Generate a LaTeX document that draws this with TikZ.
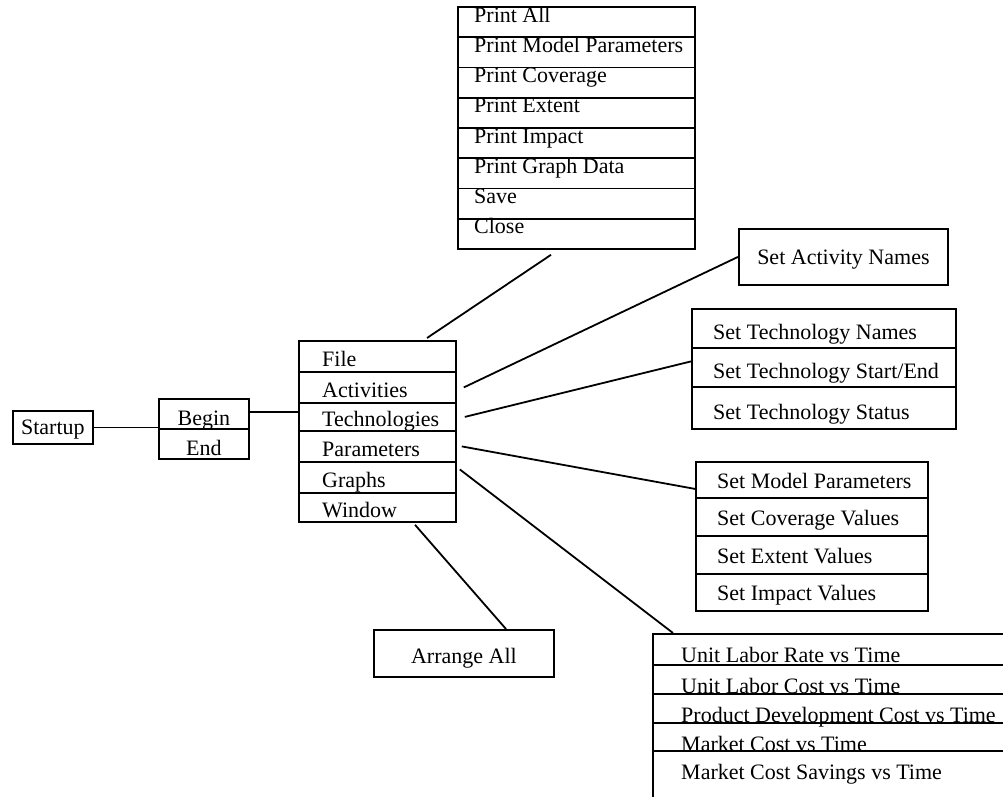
\documentclass[tikz,border=0pt]{standalone}
\usepackage{fontspec}
\setmainfont{Liberation Serif}
\newcommand{\dfont}{\fontsize{22}{26}\selectfont}
\begin{document}
\begin{tikzpicture}[x=1pt,y=-1pt,
  box/.style={draw, line width=1.8pt, rectangle, inner sep=0pt, font=\dfont, text height=16pt, text depth=1.4pt},
  cell/.style 2 args={box, anchor=north west, minimum width=#1, minimum height=#2},
  lbl/.style={anchor=base west, inner sep=0pt, font=\dfont},
  link/.style={line width=1.8pt},
]
\useasboundingbox (0,0) rectangle (1003,796);
\clip (0,0) rectangle (1003,796);

% Startup
\node[cell={80}{33}] (startup) at (12,410) {Startup};

% Begin / End
\node[cell={90}{30}, text height=24pt] (begin) at (158,398) {Begin};
\node[cell={90}{30}, text height=24pt] (end) at (158,428) {End};

% Main menu
\foreach \t/\y/\h [count=\i] in {File/340/31, Activities/371/31, Technologies/402/28, Parameters/430/31, Graphs/461/31, Window/492/29}{
  \node[cell={157}{\h}] (m\i) at (298,\y) {};
  \node[lbl, xshift=24pt, yshift=-9.8pt] (mt\i) at (m\i.west) {\t};
}

% Print menu
\foreach \t [count=\i] in {Print All, Print Model Parameters, Print Coverage, Print Extent, Print Impact, Print Graph Data, Save, Close}{
  \node[cell={237}{30.25}] (p\i) at (457,{6+30.25*(\i-1)}) {};
  \node[lbl, xshift=17pt] (pt\i) at (p\i.west) {\t};
}

% Activity
\node[cell={209}{56}] (act) at (738,228) {Set Activity Names};

% Technologies
\foreach \t/\y/\h [count=\i] in {Set Technology Names/308/39, Set Technology Start\slash End/347/39, Set Technology Status/386/42}{
  \node[cell={264}{\h}] (t\i) at (691,\y) {};
  \node[lbl, xshift=22pt, yshift=-11.3pt] (tt\i) at (t\i.west) {\t};
}

% Parameters
\foreach \t/\y/\h [count=\i] in {Set Model Parameters/461/36, Set Coverage Values/497/38, Set Extent Values/535/38, Set Impact Values/573/37}{
  \node[cell={232}{\h}] (s\i) at (695,\y) {};
  \node[lbl, xshift=22pt, yshift=-8.5pt] (st\i) at (s\i.west) {\t};
}

% Graphs
\foreach \t/\y/\h [count=\i] in {Unit Labor Rate vs Time/633/31, Unit Labor Cost vs Time/664/29, Product Development Cost vs Time/693/29, Market Cost vs Time/722/28, Market Cost Savings vs Time/750/50}{
  \node[cell={360}{\h}] (g\i) at (652,\y) {};
  \node[lbl, xshift=29pt, yshift=-29pt] (gt\i) at (g\i.north west) {\t};
}

% Window
\node[cell={180}{47}, text height=21pt] (arr) at (373,629) {Arrange All};

% Connectors
\draw[link] (startup.east) -- (startup.east -| begin.west);
\draw[link] ([yshift=2pt]begin.east) -- ([yshift=2pt]begin.east -| m3.west);
\draw[link] ([xshift=129pt,yshift=2pt]m1.north west) -- ([xshift=94pt,yshift=-5pt]p8.south west);
\draw[link] ([xshift=7pt]m2.east) -- (act.west);
\draw[link] ([xshift=8pt]m3.east) -- ([yshift=6pt]t2.west);
\draw[link] ([xshift=5pt]m4.east) -- ([yshift=-9pt]s1.west);
\draw[link] ([xshift=3pt,yshift=8pt]m5.east) -- ([xshift=21pt]g1.north west);
\draw[link] ([xshift=117pt,yshift=-2pt]m6.south west) -- ([xshift=133pt]arr.north west);
\end{tikzpicture}
\end{document}
